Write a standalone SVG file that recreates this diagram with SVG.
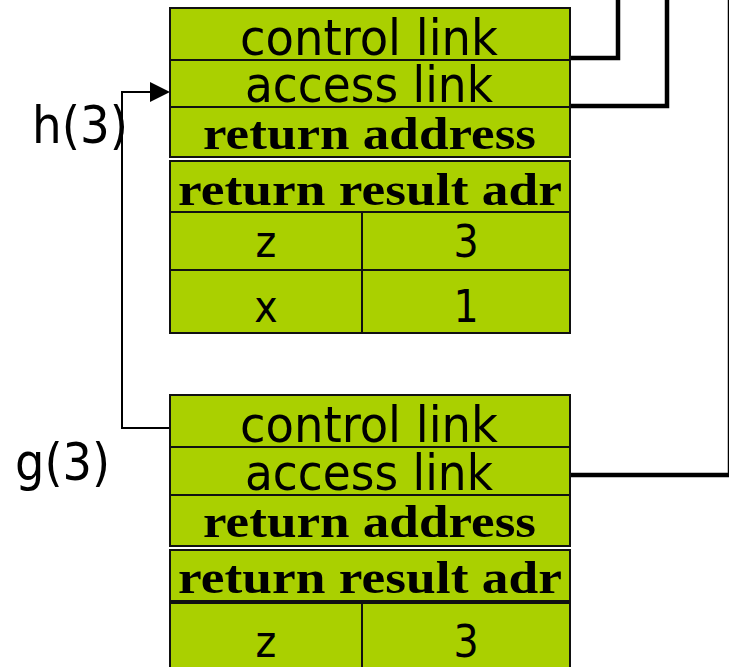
<svg xmlns="http://www.w3.org/2000/svg" width="729" height="667" viewBox="0 0 729 667">
  <defs>
    <style>
      .cell { fill: #aad000; stroke: #111; stroke-width: 2; }
      .sep { stroke: #111; stroke-width: 2; fill: none; }
      .sans { font-family: "DejaVu Sans Condensed", "DejaVu Sans", sans-serif; fill: #000; }
      .bold { font-family: "Liberation Serif", "Times New Roman", serif; font-weight: bold; fill: #000; }
      .link { font-size: 50px; }
      .ret { font-size: 47px; }
      .val { font-size: 44px; text-anchor: middle; }
      .lbl { font-size: 52px; }
      .thick { stroke: #000; stroke-width: 4.5; fill: none; }
      .thin { stroke: #000; stroke-width: 2; fill: none; }
    </style>
  </defs>
  <rect width="729" height="667" fill="#fff"/>

  <!-- connectors -->
  <g id="connectors">
    <path class="thick" d="M570,58 H618 V0"/>
    <path class="thick" d="M570,106 H667 V0"/>
    <path class="thick" d="M570,475 H730 V0"/>
    <path class="thin" d="M170,428 H122 V92 H152"/>
    <polygon points="150,82 170,92 150,102" fill="#000"/>
  </g>

  <!-- activation record h(3) -->
  <g id="frame-h">
    <rect class="cell" x="170" y="8" width="400" height="52"/>
    <rect class="cell" x="170" y="60" width="400" height="47"/>
    <rect class="cell" x="170" y="107" width="400" height="50"/>
    <rect class="cell" x="170" y="161" width="400" height="51"/>
    <rect class="cell" x="170" y="212" width="400" height="58"/>
    <rect class="cell" x="170" y="270" width="400" height="63"/>
    <line class="sep" x1="362" y1="212" x2="362" y2="333"/>
    <text class="sans link" x="240" y="55" textLength="258" lengthAdjust="spacingAndGlyphs">control link</text>
    <text class="sans link" x="245" y="102" textLength="248" lengthAdjust="spacingAndGlyphs">access link</text>
    <text class="bold ret" x="203" y="149" textLength="333" lengthAdjust="spacingAndGlyphs">return address</text>
    <text class="bold ret" x="178" y="205" textLength="384" lengthAdjust="spacingAndGlyphs">return result adr</text>
    <text class="sans val" x="266" y="257">z</text>
    <text class="sans val" x="466" y="257">3</text>
    <text class="sans val" x="266" y="322">x</text>
    <text class="sans val" x="466" y="322">1</text>
  </g>

  <!-- activation record g(3) -->
  <g id="frame-g">
    <rect class="cell" x="170" y="395" width="400" height="52"/>
    <rect class="cell" x="170" y="447" width="400" height="48"/>
    <rect class="cell" x="170" y="495" width="400" height="51"/>
    <rect class="cell" x="170" y="550" width="400" height="51"/>
    <rect class="cell" x="170" y="603" width="400" height="70"/>
    <line class="sep" x1="362" y1="603" x2="362" y2="667"/>
    <text class="sans link" x="240" y="442" textLength="258" lengthAdjust="spacingAndGlyphs">control link</text>
    <text class="sans link" x="245" y="490" textLength="248" lengthAdjust="spacingAndGlyphs">access link</text>
    <text class="bold ret" x="203" y="537" textLength="333" lengthAdjust="spacingAndGlyphs">return address</text>
    <text class="bold ret" x="178" y="593" textLength="384" lengthAdjust="spacingAndGlyphs">return result adr</text>
    <text class="sans val" x="266" y="657">z</text>
    <text class="sans val" x="466" y="657">3</text>
  </g>

  <!-- frame labels -->
  <g id="label-h">
    <text class="sans lbl" x="32" y="143" textLength="96" lengthAdjust="spacingAndGlyphs">h(3)</text>
  </g>
  <g id="label-g">
    <text class="sans lbl" x="15" y="480" textLength="95" lengthAdjust="spacingAndGlyphs">g(3)</text>
  </g>
</svg>
